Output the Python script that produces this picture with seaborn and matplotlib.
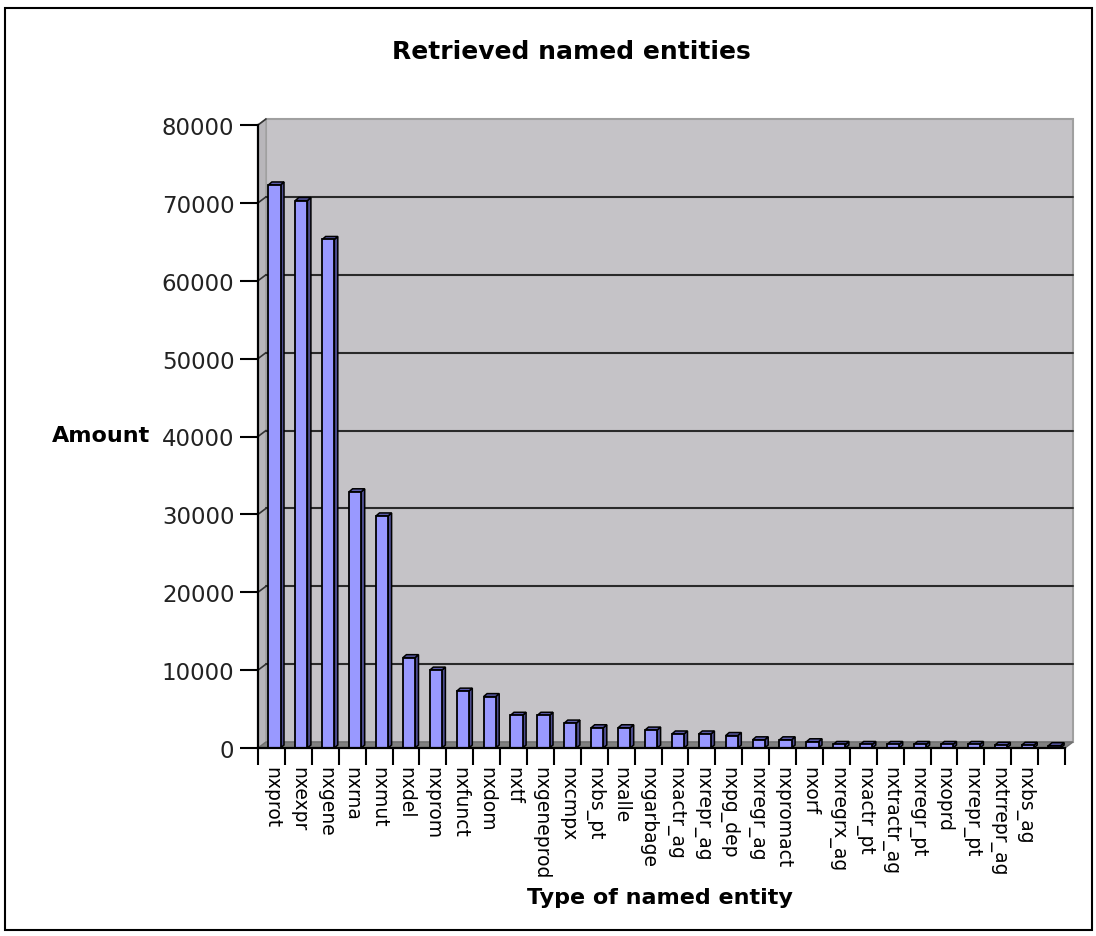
import matplotlib
matplotlib.use("Agg")
import matplotlib.pyplot as plt
import seaborn as sns
import pandas as pd
import numpy as np
from matplotlib import transforms
from matplotlib.patches import Rectangle, Polygon

# ---- data ----
categories = ["nxprot", "nxexpr", "nxgene", "nxrna", "nxmut", "nxdel", "nxprom",
              "nxfunct", "nxdom", "nxtf", "nxgeneprod", "nxcmpx", "nxbs_pt",
              "nxalle", "nxgarbage", "nxactr_ag", "nxrepr_ag", "nxpg_dep",
              "nxregr_ag", "nxpromact", "nxorf", "nxregrx_ag", "nxactr_pt",
              "nxtractr_ag", "nxregr_pt", "nxoprd", "nxrepr_pt", "nxtrrepr_ag",
              "nxbs_ag", ""]
amounts = [72300, 70300, 65300, 32900, 29800, 11600, 10000, 7300, 6600, 4200,
           4200, 3200, 2600, 2600, 2300, 1800, 1800, 1600, 1050, 1050, 800,
           450, 450, 450, 450, 450, 450, 350, 350, 300]
yticks = [0, 10000, 20000, 30000, 40000, 50000, 60000, 70000, 80000]
title = "Retrieved named entities"
xlabel = "Type of named entity"
ylabel = "Amount"

sns.set_theme(style="white")
plt.rcParams['font.family'] = ['DejaVu Sans']

W, H, DPI = 1096, 937, 100
fig = plt.figure(figsize=(W / DPI, H / DPI), dpi=DPI)
fig.patch.set_facecolor("white")

ax_l, ax_r, ax_t, ax_b = 258, 1065, 126, 749
ax = fig.add_axes([ax_l / W, 1 - ax_b / H, (ax_r - ax_l) / W, (ax_b - ax_t) / H])
ax.set_facecolor("none")

df = pd.DataFrame({"entity": categories, "amount": amounts})
sns.barplot(data=df, x="entity", y="amount", color="#9999FF", saturation=1,
            width=0.45, edgecolor="black", linewidth=1.3, ax=ax, zorder=4)

n = len(categories)
ax.set_xlim(-0.5, n - 0.5)
ax.set_ylim(0, 80000)

# shift bar fronts slightly right (3D perspective of the original)
shift = transforms.ScaledTranslation(3 / DPI, 0, fig.dpi_scale_trans)
bars = [p for p in ax.patches if isinstance(p, Rectangle)]
for p in bars:
    p.set_transform(ax.transData + shift)

# 3D depth offsets (pixels)
DX, DY = 8, 6
off = transforms.ScaledTranslation(DX / DPI, DY / DPI, fig.dpi_scale_trans)
ident = transforms.IdentityTransform()

# back wall
wall = Rectangle((0, 0), 1, 1, transform=ax.transAxes + off, facecolor="#C5C3C7",
                 edgecolor="#A0A0A0", linewidth=1.5, zorder=0, clip_on=False)
ax.add_patch(wall)
fig.canvas.draw()
bb = ax.get_window_extent()
x0, y0, x1, y1 = bb.x0, bb.y0, bb.x1, bb.y1
side = Polygon([(x0, y0), (x0 + DX, y0 + DY), (x0 + DX, y1 + DY), (x0, y1)],
               closed=True, transform=ident, facecolor="#B8B6BA",
               edgecolor="#A0A0A0", linewidth=1, zorder=0.5, clip_on=False)
floor = Polygon([(x0, y0), (x0 + DX, y0 + DY), (x1 + DX, y0 + DY), (x1, y0)],
                closed=True, transform=ident, facecolor="#808080",
                edgecolor="#707070", linewidth=1, zorder=0.6, clip_on=False)
ax.add_artist(side)
ax.add_artist(floor)

# gridlines on back wall + connectors
gtrans = transforms.blended_transform_factory(ax.transAxes, ax.transData) + off
for v in yticks[1:-1]:
    ax.plot([0, 1], [v, v], transform=gtrans, color="#2a2a2a", lw=1.5, zorder=1,
            clip_on=False)
for v in yticks[1:]:
    yp = ax.transData.transform((0, v))[1]
    ax.add_artist(plt.Line2D([x0, x0 + DX], [yp, yp + DY], transform=ident,
                             color="#333333", lw=1.2, zorder=1, clip_on=False))

# 3D sides / tops of bars
xpx = (x1 - x0) / n
ypx = (y1 - y0) / 80000
ddx = 3.5 / xpx
ddy = 3.0 / ypx
for p in bars:
    bx, bw, bh = p.get_x(), p.get_width(), p.get_height()
    if bh <= 0:
        continue
    xr = bx + bw
    ax.add_patch(Polygon([(xr, 0), (xr + ddx, ddy), (xr + ddx, bh + ddy), (xr, bh)],
                         closed=True, facecolor="#4D4D8F", edgecolor="black",
                         linewidth=1.1, zorder=3.5, transform=ax.transData + shift,
                         clip_on=False))
    ax.add_patch(Polygon([(bx, bh), (bx + ddx, bh + ddy), (xr + ddx, bh + ddy), (xr, bh)],
                         closed=True, facecolor="#5A5AA8", edgecolor="black",
                         linewidth=1.1, zorder=3.6, transform=ax.transData + shift,
                         clip_on=False))

# spines
for s in ["top", "right"]:
    ax.spines[s].set_visible(False)
for s in ["left", "bottom"]:
    ax.spines[s].set_color("black")
    ax.spines[s].set_linewidth(1.6)
    ax.spines[s].set_zorder(5)

# y ticks
ax.set_yticks(yticks)
ax.set_yticklabels([str(v) for v in yticks])
ax.tick_params(axis="y", direction="out", length=13, width=1.5, color="black",
               labelsize=16.5, labelcolor="#222222", pad=4, left=True)

# x ticks: boundaries (major) and labels (minor)
ax.set_xticks(np.arange(-0.5, n, 1.0))
ax.set_xticklabels([])
ax.set_xticks(np.arange(n), minor=True)
ax.set_xticklabels(categories, minor=True, rotation=270, fontsize=13.5,
                   color="black", va="top", ha="center")
ax.tick_params(axis="x", which="major", direction="out", length=12, width=1.5,
               color="black", bottom=True)
ax.tick_params(axis="x", which="minor", length=0, pad=13, bottom=True)

ax.set_xlabel(xlabel, fontsize=16, fontweight="bold", color="black")
ax.xaxis.set_label_coords((660 - ax_l) / (ax_r - ax_l), (ax_b - 898) / (ax_b - ax_t))
ax.xaxis.label.set_va("center")
ax.set_ylabel(ylabel, fontsize=16, fontweight="bold", color="black",
              rotation=0, ha="right", va="center")
ax.yaxis.set_label_coords((150 - ax_l) / (ax_r - ax_l), (ax_b - 436) / (ax_b - ax_t))

fig.text(571 / W, 1 - 52 / H, title, fontsize=18, fontweight="bold",
         ha="center", va="center", color="black")

# outer border
fig.add_artist(Rectangle((5 / W, 1 - 931 / H), (1092 - 5) / W, (931 - 9) / H,
                         transform=fig.transFigure, fill=False,
                         edgecolor="black", linewidth=1.5))

fig.savefig("out.png", dpi=DPI)
